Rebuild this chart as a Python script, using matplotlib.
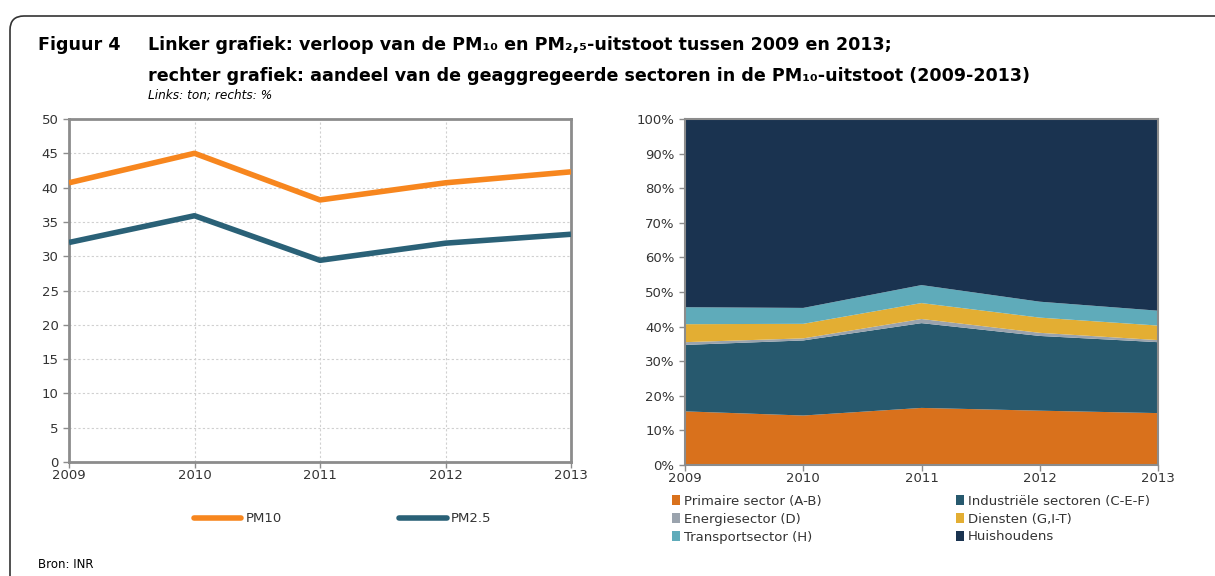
import matplotlib
matplotlib.use("Agg")
import matplotlib.pyplot as plt
from matplotlib.patches import FancyBboxPatch
from matplotlib.transforms import IdentityTransform
from matplotlib.lines import Line2D
from matplotlib.patches import Patch
import numpy as np

years = [2009, 2010, 2011, 2012, 2013]
pm10 = [40.7, 45.0, 38.2, 40.7, 42.3]
pm25 = [32.0, 35.9, 29.4, 31.9, 33.2]

sector_labels = ["Primaire sector (A-B)", "Industriële sectoren (C-E-F)", "Energiesector (D)",
                 "Diensten (G,I-T)", "Transportsector (H)", "Huishoudens"]
primaire = [15.5, 14.3, 16.5, 15.7, 15.0]
industrie = [19.2, 21.7, 24.5, 21.6, 20.5]
energie = [0.8, 0.6, 1.2, 0.9, 0.6]
diensten = [5.2, 4.2, 4.6, 4.4, 4.2]
transport = [4.9, 4.6, 5.2, 4.6, 4.3]
huishoudens = [54.4, 54.6, 48.0, 52.8, 55.4]

plt.rcParams['font.family'] = ['DejaVu Sans']
W, H = 1215, 576
fig = plt.figure(figsize=(W / 100, H / 100), dpi=100)

def ax_px(x0, y0, x1, y1):
    return fig.add_axes([x0 / W, 1 - y1 / H, (x1 - x0) / W, (y1 - y0) / H])

# frame
frame = FancyBboxPatch((10, -40), 1240, 600, boxstyle="round,pad=0,rounding_size=14",
                       transform=IdentityTransform(), fill=False, edgecolor="#333333", linewidth=1.2)
fig.patches.append(frame)

title_fs = 12.6
fig.text(38 / W, 1 - 45 / H, "Figuur 4", fontsize=title_fs, fontweight="bold", va="center", ha="left")
fig.text(148 / W, 1 - 45 / H, "Linker grafiek: verloop van de PM₁₀ en PM₂,₅-uitstoot tussen 2009 en 2013;",
         fontsize=title_fs, fontweight="bold", va="center", ha="left")
fig.text(148 / W, 1 - 76 / H, "rechter grafiek: aandeel van de geaggregeerde sectoren in de PM₁₀-uitstoot (2009-2013)",
         fontsize=title_fs, fontweight="bold", va="center", ha="left")
fig.text(148 / W, 1 - 95 / H, "Links: ton; rechts: %", fontsize=8.7, fontstyle="italic", va="center", ha="left")
fig.text(38 / W, 1 - 564 / H, "Bron: INR", fontsize=8.5, va="center", ha="left")

spine_c = "#8c8c8c"
tick_fs = 9.5
txt_c = "#333333"

# left chart
ax1 = ax_px(69, 119, 571, 462)
ax1.plot(years, pm10, color="#F7861E", lw=4, solid_capstyle="butt", label="PM10", zorder=3)
ax1.plot(years, pm25, color="#2A6177", lw=4, solid_capstyle="butt", label="PM2.5", zorder=3)
ax1.set_xlim(2009, 2013)
ax1.set_ylim(0, 50)
ax1.set_xticks(years)
ax1.set_yticks(range(0, 51, 5))
ax1.grid(True, color="#d0d0d0", linestyle=(0, (2, 2)), linewidth=0.8)
for s in ax1.spines.values():
    s.set_color(spine_c)
    s.set_linewidth(2)
ax1.tick_params(colors=spine_c, labelcolor=txt_c, labelsize=tick_fs, length=4, width=1)
ax1.tick_params(axis="x", pad=1)
leg1 = fig.legend(handles=[Line2D([], [], color="#F7861E", lw=4, solid_capstyle="round"),
                           Line2D([], [], color="#2A6177", lw=4, solid_capstyle="round")],
                  labels=["PM10", "PM2.5"], loc="center left", bbox_to_anchor=(182 / W, 1 - 519 / H),
                  ncol=2, frameon=False, fontsize=9.5, handlelength=3.6, handletextpad=0.3,
                  columnspacing=8.9, labelcolor=txt_c)

# right chart
ax2 = ax_px(685, 119, 1158, 465)
cols = ["#D9711C", "#27596E", "#9AA3AD", "#E3AE33", "#5FABBA", "#1A3350"]
ax2.stackplot(years, primaire, industrie, energie, diensten, transport, huishoudens,
              colors=cols, labels=sector_labels, linewidth=0)
ax2.set_xlim(2009, 2013)
ax2.set_ylim(0, 100)
ax2.set_xticks(years)
ax2.set_yticks(range(0, 101, 10))
ax2.set_yticklabels([f"{v}%" for v in range(0, 101, 10)])
for s in ax2.spines.values():
    s.set_color(spine_c)
    s.set_linewidth(1.5)
ax2.tick_params(colors=spine_c, labelcolor=txt_c, labelsize=tick_fs, length=4, width=1)
ax2.tick_params(axis="x", pad=1)
handles = [Patch(facecolor=c, edgecolor="none") for c in cols]
order = [0, 2, 4, 1, 3, 5]
leg2 = fig.legend(handles=[handles[i] for i in order], labels=[sector_labels[i] for i in order],
                  loc="upper left", bbox_to_anchor=(672 / W, 1 - 495 / H), ncol=2, frameon=False,
                  fontsize=9.5, handlelength=0.6, handleheight=0.8, handletextpad=0.3,
                  columnspacing=10.2, labelspacing=0.36, labelcolor=txt_c, borderaxespad=0, borderpad=0)

fig.savefig("out.png", dpi=100)
